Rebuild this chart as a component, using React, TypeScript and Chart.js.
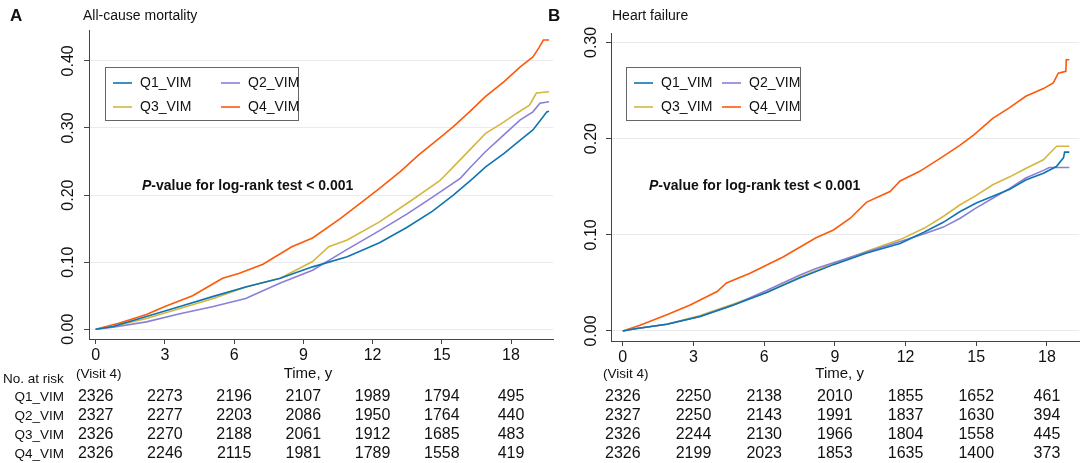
import { useEffect, useRef } from "react";
import Chart from "chart.js/auto";

const FONT = '"Liberation Sans", Arial, sans-serif';
const groups = ["Q1_VIM", "Q2_VIM", "Q3_VIM", "Q4_VIM"];
const colors = ["#0f74b3", "#8a7fd8", "#d5b63f", "#fc5a0a"];
const xTicks = [0, 3, 6, 9, 12, 15, 18];
const yTicksA = [0, 0.1, 0.2, 0.3, 0.4];
const yTicksB = [0, 0.1, 0.2, 0.3];

// Panel A: all-cause mortality (time in years, cumulative incidence)
const aQ1t = [0, 0.75, 2.2, 3.65, 5.1, 6.5, 8, 9.4, 10.9, 12.3, 13.5, 14.6, 15.5, 16.35, 16.9, 17.7, 18.4, 18.95, 19.4, 19.55, 19.65];
const aQ1v = [0, 0.004, 0.019, 0.034, 0.049, 0.063, 0.076, 0.093, 0.108, 0.129, 0.152, 0.176, 0.2, 0.225, 0.242, 0.262, 0.282, 0.297, 0.317, 0.324, 0.325];
const aQ2t = [0, 0.75, 2.2, 3.65, 5.1, 6.5, 8, 9.4, 10.9, 12.3, 13.5, 14.6, 15.8, 16.2, 16.9, 17.7, 18.4, 18.95, 19.25, 19.65];
const aQ2v = [0, 0.003, 0.011, 0.023, 0.034, 0.046, 0.069, 0.088, 0.119, 0.147, 0.172, 0.197, 0.225, 0.24, 0.265, 0.29, 0.312, 0.324, 0.337, 0.339];
const aQ3t = [0, 0.75, 2.2, 3.65, 5.1, 6.5, 8, 9.4, 10.1, 10.9, 12.3, 13.6, 14.9, 15.5, 16.2, 16.9, 17.7, 18.25, 18.8, 19.1, 19.65];
const aQ3v = [0, 0.004, 0.016, 0.031, 0.046, 0.063, 0.076, 0.101, 0.123, 0.133, 0.16, 0.19, 0.221, 0.242, 0.267, 0.292, 0.309, 0.322, 0.334, 0.352, 0.354];
const aQ4t = [0, 1, 2.2, 3, 4.2, 5, 5.5, 6.2, 7.25, 8.5, 9.4, 10.6, 11.7, 12.3, 13.2, 14, 14.9, 15.5, 16.2, 16.9, 17.7, 18.4, 18.95, 19.2, 19.4, 19.65];
const aQ4v = [0, 0.009, 0.022, 0.034, 0.05, 0.066, 0.076, 0.083, 0.097, 0.123, 0.136, 0.165, 0.194, 0.21, 0.235, 0.26, 0.285, 0.302, 0.324, 0.347, 0.369, 0.391, 0.406, 0.419, 0.431, 0.431];

// Panel B: heart failure
const bQ1t = [0, 0.45, 1.87, 3.28, 4.7, 6.1, 7.5, 8.94, 10.35, 11.77, 12.8, 13.6, 14.3, 15, 15.7, 16.4, 17.1, 17.85, 18.4, 18.7, 18.75, 18.95];
const bQ1v = [0, 0.002, 0.007, 0.015, 0.027, 0.04, 0.055, 0.069, 0.081, 0.091, 0.103, 0.113, 0.124, 0.133, 0.14, 0.147, 0.157, 0.164, 0.171, 0.18, 0.186, 0.186];
const bQ2t = [0, 0.45, 1.87, 3.28, 4.7, 6.1, 7.5, 8.2, 8.94, 10.35, 11.77, 12.8, 13.6, 14.3, 15, 15.7, 16.4, 17.1, 17.85, 18.1, 18.95];
const bQ2v = [0, 0.002, 0.007, 0.015, 0.027, 0.042, 0.058, 0.065, 0.071, 0.082, 0.093, 0.101, 0.108, 0.117, 0.128, 0.138, 0.148, 0.159, 0.167, 0.17, 0.17];
const bQ3t = [0, 0.45, 1.87, 3.28, 4.7, 6.1, 7.5, 8.94, 10.35, 11.77, 12.8, 13.6, 14.3, 15, 15.7, 16.4, 17.1, 17.85, 18.13, 18.41, 18.95];
const bQ3v = [0, 0.002, 0.007, 0.016, 0.028, 0.04, 0.056, 0.07, 0.083, 0.095, 0.107, 0.119, 0.131, 0.141, 0.152, 0.16, 0.169, 0.178, 0.185, 0.192, 0.192];
const bQ4t = [0, 0.73, 1.87, 2.86, 4, 4.4, 5.4, 6.8, 8.2, 8.94, 9.64, 10.35, 11.34, 11.77, 12.6, 13.5, 14.3, 14.9, 15.7, 16.4, 17.1, 17.85, 18.27, 18.48, 18.8, 18.82, 18.95];
const bQ4v = [0, 0.006, 0.017, 0.027, 0.041, 0.05, 0.06, 0.077, 0.097, 0.105, 0.117, 0.134, 0.145, 0.156, 0.166, 0.18, 0.193, 0.204, 0.221, 0.232, 0.244, 0.252, 0.258, 0.268, 0.27, 0.282, 0.282];

// Numbers at risk
const riskA = [
  [2326, 2273, 2196, 2107, 1989, 1794, 495],
  [2327, 2277, 2203, 2086, 1950, 1764, 440],
  [2326, 2270, 2188, 2061, 1912, 1685, 483],
  [2326, 2246, 2115, 1981, 1789, 1558, 419],
];
const riskB = [
  [2326, 2250, 2138, 2010, 1855, 1652, 461],
  [2327, 2250, 2143, 1991, 1837, 1630, 394],
  [2326, 2244, 2130, 1966, 1804, 1558, 445],
  [2326, 2199, 2023, 1853, 1635, 1400, 373],
];

const zip = (t: number[], v: number[]) => t.map((x, i) => ({ x, y: v[i] }));

type PanelCfg = {
  letter: string;
  title: string;
  left: number;
  width: number;
  series: { x: number; y: number }[][];
  yTicks: number[];
  xMin: number;
  xMax: number;
  yMin: number;
  yMax: number;
  yAxisW: number;
  padRight: number;
  top: number;
  bottom: number;
  yLabelX: number;
  legend: { x: number; y: number; w: number; h: number; col2: number };
  pval: { x: number; y: number };
  risk: number[][];
  rowLabels: boolean;
};

const panels: PanelCfg[] = [
  {
    letter: "A",
    title: "All-cause mortality",
    left: 0,
    width: 570,
    series: [zip(aQ1t, aQ1v), zip(aQ2t, aQ2v), zip(aQ3t, aQ3v), zip(aQ4t, aQ4v)],
    yTicks: yTicksA,
    xMin: -0.29,
    xMax: 19.82,
    yMin: -0.0145,
    yMax: 0.446,
    yAxisW: 89,
    padRight: 17,
    top: 30,
    bottom: 339,
    yLabelX: 68.5,
    legend: { x: 105, y: 67, w: 193, h: 53, col2: 108 },
    pval: { x: 142, y: 186 },
    risk: riskA,
    rowLabels: true,
  },
  {
    letter: "B",
    title: "Heart failure",
    left: 542,
    width: 542,
    series: [zip(bQ1t, bQ1v), zip(bQ2t, bQ2v), zip(bQ3t, bQ3v), zip(bQ4t, bQ4v)],
    yTicks: yTicksB,
    xMin: -0.5,
    xMax: 19.36,
    yMin: -0.0104,
    yMax: 0.3098,
    yAxisW: 69,
    padRight: 5,
    top: 33,
    bottom: 341,
    yLabelX: 50,
    legend: { x: 84, y: 67, w: 174, h: 53, col2: 88 },
    pval: { x: 107, y: 186 },
    risk: riskB,
    rowLabels: false,
  },
];

function makeOverlay(cfg: PanelCfg) {
  return {
    id: "overlay" + cfg.letter,
    afterDraw(chart: any) {
      const ctx = chart.ctx as CanvasRenderingContext2D;
      const xs = chart.scales.x;
      const ys = chart.scales.y;
      ctx.save();
      ctx.fillStyle = "#111";
      // Panel letter and title
      ctx.textBaseline = "middle";
      ctx.textAlign = "left";
      ctx.font = `bold 17px ${FONT}`;
      ctx.fillText(cfg.letter, cfg.letter === "A" ? 10 : 6, 16);
      ctx.font = `14px ${FONT}`;
      ctx.fillText(cfg.title, cfg.letter === "A" ? 83 : 70, 16);

      // y tick labels (rotated)
      ctx.font = `16px ${FONT}`;
      ctx.textAlign = "center";
      for (const v of cfg.yTicks) {
        const py = ys.getPixelForValue(v);
        ctx.save();
        ctx.translate(cfg.yLabelX, py);
        ctx.rotate(-Math.PI / 2);
        ctx.fillText(v.toFixed(2), 0, 0);
        ctx.restore();
      }

      // "(Visit 4)" and axis title
      ctx.font = `13.5px ${FONT}`;
      ctx.textAlign = "center";
      ctx.fillText("(Visit 4)", xs.getPixelForValue(0) + 3, 374);
      ctx.font = `15px ${FONT}`;
      ctx.fillText("Time, y", xs.getPixelForValue(9.2), 374);

      // Legend
      const L = cfg.legend;
      ctx.fillStyle = "#ffffff";
      ctx.fillRect(L.x, L.y, L.w, L.h);
      ctx.strokeStyle = "#666";
      ctx.lineWidth = 1;
      ctx.strokeRect(L.x + 0.5, L.y + 0.5, L.w, L.h);
      ctx.font = `14px ${FONT}`;
      ctx.textAlign = "left";
      groups.forEach((g, i) => {
        const col = i % 2;
        const row = Math.floor(i / 2);
        const lx = L.x + 8 + col * L.col2;
        const ly = L.y + 16 + row * 24;
        ctx.strokeStyle = colors[i];
        ctx.lineWidth = 1.6;
        ctx.beginPath();
        ctx.moveTo(lx, ly);
        ctx.lineTo(lx + 19, ly);
        ctx.stroke();
        ctx.fillStyle = "#111";
        ctx.fillText(g, lx + 27, ly);
      });

      // P-value annotation
      ctx.font = `italic bold 14px ${FONT}`;
      ctx.fillText("P", cfg.pval.x, cfg.pval.y);
      const pw = ctx.measureText("P").width;
      ctx.font = `bold 14px ${FONT}`;
      ctx.fillText("-value for log-rank test < 0.001", cfg.pval.x + pw, cfg.pval.y);

      // Risk table
      if (cfg.rowLabels) {
        ctx.font = `13.5px ${FONT}`;
        ctx.textAlign = "left";
        ctx.fillText("No. at risk", 3, 379);
        ctx.textAlign = "right";
        groups.forEach((g, i) => ctx.fillText(g, 64, 397 + i * 19));
      }
      ctx.font = `16px ${FONT}`;
      ctx.textAlign = "center";
      cfg.risk.forEach((row, i) => {
        row.forEach((n, j) => {
          ctx.fillText(String(n), xs.getPixelForValue(xTicks[j]), 397 + i * 19);
        });
      });
      ctx.restore();
    },
  };
}

function Panel({ cfg }: { cfg: PanelCfg }) {
  const ref = useRef<HTMLCanvasElement>(null);
  useEffect(() => {
    if (!ref.current) return;
    const xAxisH = 26;
    const chart = new Chart(ref.current, {
      type: "line",
      data: {
        datasets: cfg.series.map((pts, i) => ({
          label: groups[i],
          data: pts,
          borderColor: colors[i],
          backgroundColor: colors[i],
          borderWidth: 1.6,
          pointRadius: 0,
          tension: 0,
          fill: false,
        })),
      },
      options: {
        animation: false,
        responsive: false,
        devicePixelRatio: 1,
        layout: {
          padding: {
            left: 0,
            top: cfg.top,
            right: cfg.padRight,
            bottom: 463 - cfg.bottom - xAxisH,
          },
        },
        plugins: { legend: { display: false }, tooltip: { enabled: false } },
        scales: {
          x: {
            type: "linear",
            min: cfg.xMin,
            max: cfg.xMax,
            afterBuildTicks: (s: any) => {
              s.ticks = xTicks.map((v) => ({ value: v }));
            },
            afterFit: (s: any) => {
              s.height = xAxisH;
            },
            border: { display: true, color: "#444", width: 1 },
            grid: { drawOnChartArea: false, tickLength: 5, tickColor: "#444", tickWidth: 1 },
            ticks: {
              font: { family: FONT, size: 16 },
              color: "#111",
              padding: 2,
              maxRotation: 0,
              autoSkip: false,
              callback: (v: any) => String(v),
            },
          },
          y: {
            type: "linear",
            min: cfg.yMin,
            max: cfg.yMax,
            afterBuildTicks: (s: any) => {
              s.ticks = cfg.yTicks.map((v) => ({ value: v }));
            },
            afterFit: (s: any) => {
              s.width = cfg.yAxisW;
            },
            border: { display: true, color: "#444", width: 1 },
            grid: { color: "#ebebeb", lineWidth: 1, tickLength: 5, tickColor: "#444", tickWidth: 1 },
            ticks: { display: false },
          },
        },
      },
      plugins: [makeOverlay(cfg)],
    } as any);
    return () => chart.destroy();
  }, [cfg]);
  return (
    <canvas
      ref={ref}
      width={cfg.width}
      height={463}
      style={{ position: "absolute", left: cfg.left, top: 0, width: cfg.width, height: 463 }}
    />
  );
}

export default function App() {
  return (
    <div style={{ position: "fixed", left: 0, top: 0, width: 1084, height: 463, background: "#fff", overflow: "hidden" }}>
      {panels.map((p) => (
        <Panel key={p.letter} cfg={p} />
      ))}
    </div>
  );
}
